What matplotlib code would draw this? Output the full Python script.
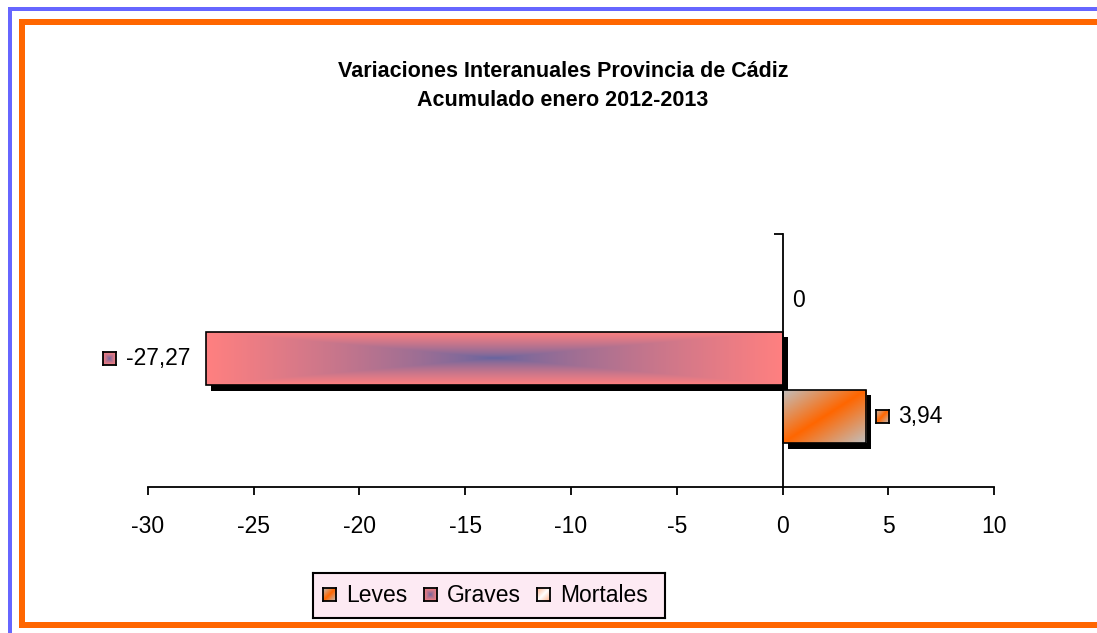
"""Variaciones interanuales Provincia de Cádiz, acumulado enero 2012-2013."""

import numpy as np
from matplotlib import pyplot as plt
from matplotlib.patches import Rectangle
from matplotlib.transforms import ScaledTranslation

plt.rcParams["font.family"] = ["Liberation Sans", "DejaVu Sans"]
plt.rcParams["axes.unicode_minus"] = False

TITLE = "Variaciones Interanuales Provincia de Cádiz\nAcumulado enero 2012-2013"
SERIES = ["Leves", "Graves", "Mortales"]
VALUES = [3.94, -27.27, 0.0]
X_TICKS = [-30, -25, -20, -15, -10, -5, 0, 5, 10]

W, H = 1097, 633
BLUE = "#6666FF"
ORANGE = "#FF6600"
FS = 16.5


def _grad_leves(n=160, m=80):
    x = np.linspace(0, 1, n)
    y = np.linspace(0, 1, m)
    w = np.abs(x[None, :] - y[:, None])[..., None]
    orange = np.array([255, 102, 0]) / 255
    gray = np.array([192, 192, 192]) / 255
    return orange * (1 - w) + gray * w


def _grad_graves(n=300, m=80):
    u = np.abs(np.linspace(-1, 1, n))
    v = np.abs(np.linspace(-1, 1, m))
    w = np.maximum(u[None, :], v[:, None])[..., None] ** 0.75
    center = np.array([100, 100, 160]) / 255
    edge = np.array([255, 128, 128]) / 255
    return center * (1 - w) + edge * w


def _grad_mortales(n=60, m=60):
    x = np.linspace(0, 1, n)
    y = np.linspace(0, 1, m)
    w = np.clip(np.abs(x[None, :] - y[:, None]) * 1.2, 0, 1)[..., None]
    peach = np.array([255, 190, 160]) / 255
    white = np.array([255, 255, 255]) / 255
    return white * (1 - w) + peach * w


GRADIENTS = {"Leves": _grad_leves, "Graves": _grad_graves, "Mortales": _grad_mortales}


def _px_rect(fig, x0, y0, x1, y1, color):
    fig.add_artist(Rectangle((x0 / W, 1 - y1 / H), (x1 - x0) / W, (y1 - y0) / H,
                             transform=fig.transFigure, facecolor=color,
                             edgecolor="none", zorder=0))


def _key(fig, x0, y0, size, name):
    kax = fig.add_axes([x0 / W, 1 - (y0 + size) / H, size / W, size / H])
    kax.imshow(GRADIENTS[name](), aspect="auto", origin="lower", extent=[0, 1, 0, 1])
    kax.set_xticks([])
    kax.set_yticks([])
    for sp in kax.spines.values():
        sp.set_linewidth(1.3)
    return kax


fig = plt.figure(figsize=(W / 100, H / 100), dpi=100)

# frame lines
_px_rect(fig, 8, 7, W, 11, BLUE)
_px_rect(fig, 8, 7, 12, H, BLUE)
_px_rect(fig, 19, 19, W, 25, ORANGE)
_px_rect(fig, 19, 19, 25, 628, ORANGE)
_px_rect(fig, 19, 622, W, 628, ORANGE)

ax = fig.add_axes([148 / W, (H - 487) / H, 846 / W, 253 / H])
ax.patch.set_alpha(0)
ylo, yhi = -1.216, 3.147
ax.set_xlim(X_TICKS[0], X_TICKS[-1])
ax.set_ylim(ylo, yhi)

bar_h = 0.92
pos = np.arange(len(SERIES))
shadow_tr = ax.transData + ScaledTranslation(5.5 / 100, -5.5 / 100, fig.dpi_scale_trans)

for p, name, val in zip(pos, SERIES, VALUES):
    if val == 0:
        continue
    ax.barh(p, val, height=bar_h, color="black", transform=shadow_tr, zorder=1)
    face = ax.barh(p, val, height=bar_h, facecolor="none", edgecolor="black",
                   linewidth=1.2, zorder=3)[0]
    img = ax.imshow(GRADIENTS[name](), aspect="auto", origin="lower",
                    extent=[min(0, val), max(0, val), p - bar_h / 2, p + bar_h / 2],
                    zorder=2)
    img.set_clip_path(face)

ax.set_xlim(X_TICKS[0], X_TICKS[-1])
ax.set_ylim(ylo, yhi)

for side in ("top", "right"):
    ax.spines[side].set_visible(False)
ax.spines["left"].set_position(("data", 0))
ax.spines["left"].set_zorder(4)
ax.spines["bottom"].set_linewidth(1.3)
ax.spines["left"].set_linewidth(1.3)
ax.set_xticks(X_TICKS)
ax.set_xticklabels([str(t) for t in X_TICKS])
ax.set_yticks([yhi])
ax.set_yticklabels([])
ax.tick_params(axis="x", direction="out", length=6, width=1.3, labelsize=FS, pad=14)
ax.tick_params(axis="y", direction="out", length=6.5, width=1.3)

# data labels
for p, name, val in zip(pos, SERIES, VALUES):
    xpx, yd = ax.transData.transform((val, p))
    ypx = H - yd
    lab = f"{val:.2f}".replace(".", ",") if val != 0 else "0"
    if val < 0:
        fig.text((xpx - 15) / W, 1 - ypx / H, lab, ha="right", va="center", fontsize=FS)
        _key(fig, xpx - 103, ypx - 6.5, 13, name)
    elif val > 0:
        _key(fig, xpx + 10, ypx - 6.5, 13, name)
        fig.text((xpx + 32) / W, 1 - ypx / H, lab, ha="left", va="center", fontsize=FS)
    else:
        fig.text((xpx + 10) / W, 1 - ypx / H, lab, ha="left", va="center", fontsize=FS)

fig.text(563 / W, 1 - 86 / H, TITLE, ha="center", va="center", fontsize=15.5,
         fontweight="bold", linespacing=1.45)

# legend box
lax = fig.add_axes([313 / W, 1 - 618 / H, 352 / W, 45 / H])
lax.set_facecolor("#FDEAF3")
lax.set_xticks([])
lax.set_yticks([])
for sp in lax.spines.values():
    sp.set_linewidth(1.5)
key_x = [323, 424, 537]
for kx, name in zip(key_x, SERIES):
    _key(fig, kx, 588, 13, name)
    fig.text((kx + 23) / W, 1 - 596 / H, name, ha="left", va="center", fontsize=FS)

fig.savefig("out.png", dpi=100)
